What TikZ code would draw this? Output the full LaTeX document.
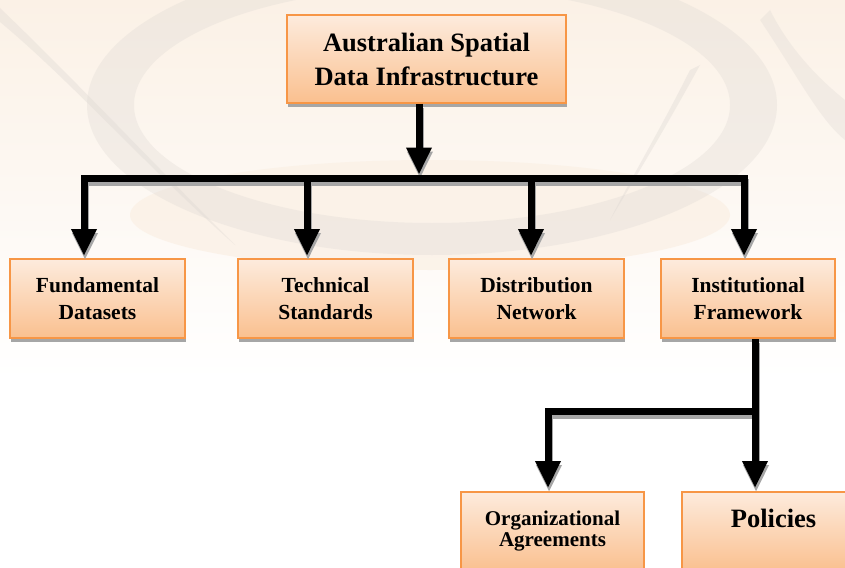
\documentclass[tikz,border=0pt]{standalone}
\usepackage{fontspec}
\setmainfont{Liberation Serif}
\usetikzlibrary{arrows.meta,shadows}

\definecolor{boxedge}{HTML}{F79646}
\definecolor{boxtop}{HTML}{FDEBDD}
\definecolor{boxbottom}{HTML}{FAC08F}
\definecolor{seal}{HTML}{DCD7D2}
\definecolor{sealwarm}{HTML}{FBF1E6}

\tikzset{
  box/.style={draw=boxedge, line width=2pt, top color=boxtop, bottom color=boxbottom,
    inner sep=0pt, align=center,
    general shadow={fill=black!35, shadow xshift=1pt, shadow yshift=-4pt}},
  titletext/.style={font=\bfseries\fontsize{26.5}{34}\selectfont},
  itemtext/.style={font=\bfseries\fontsize{21.5}{27}\selectfont},
  link/.style={line width=7pt, draw=black},
  tip/.style={-{Triangle[width=24pt,length=27pt]}},
}

% every connector of the chart, drawn once for the shadow and once in black
\newcommand\linkpaths{%
  \draw[link, line cap=rect] (d1) -- (d4);
  \draw[link, tip, shorten >=3.5pt] (asdi.south -| j0) -- (j0);
  \draw[link, tip, shorten >=2pt] (d1) -- (d1 |- fund.north);
  \draw[link, tip, shorten >=2pt] (d2) -- (d2 |- tech.north);
  \draw[link, tip, shorten >=2pt] (d3) -- (d3 |- dist.north);
  \draw[link, tip, shorten >=2pt] (d4) -- (d4 |- inst.north);
  \draw[link, line cap=rect] (k2) -- (k1);
  \draw[link, tip, shorten >=3pt] (inst.south -| k1) -- (k1 |- pol.north);
  \draw[link, tip, shorten >=3pt] (k2) -- (k2 |- org.north);
}

\begin{document}
\begin{tikzpicture}[x=1pt, y=-1pt]
  \useasboundingbox (0,0) rectangle (845,567);
  \clip (0,0) rectangle (845,567);
  \fill[white] (0,0) rectangle (845,567);

  % faint seal in the background
  \shade[top color=sealwarm, bottom color=white] (0,0) rectangle (845,380);
  \fill[sealwarm, opacity=.8] (430,215) ellipse [x radius=300, y radius=55];
  \fill[seal, opacity=.3, even odd rule]
    (432,105) ellipse [x radius=345, y radius=150]
    (432,105) ellipse [x radius=298, y radius=118];
  \fill[seal, opacity=.35] (0,22) .. controls (70,80) and (150,170) .. (235,245)
    .. controls (150,160) and (70,75) .. (0,8) -- cycle;
  \fill[seal, opacity=.35] (690,70) .. controls (660,130) and (630,180) .. (610,220)
    .. controls (640,170) and (670,120) .. (700,65) -- cycle;
  \fill[seal, opacity=.3] (760,20) .. controls (800,80) and (820,120) .. (845,140)
    -- (845,100) .. controls (820,80) and (790,50) .. (770,10) -- cycle;

  % boxes
  \node[box, titletext, minimum width=279pt, minimum height=88pt] (asdi) at (426.5,59)
    {Australian Spatial\\Data Infrastructure};
  \node[box, itemtext, minimum width=175pt, minimum height=79pt] (fund) at (97.5,298.5)
    {Fundamental\\Datasets};
  \node[box, itemtext, minimum width=175pt, minimum height=79pt] (tech) at (325.5,298.5)
    {Technical\\Standards};
  \node[box, itemtext, minimum width=175pt, minimum height=79pt] (dist) at (536.5,298.5)
    {Distribution\\Network};
  \node[box, itemtext, minimum width=174pt, minimum height=79pt] (inst) at (748,298.5)
    {Institutional\\Framework};
  \node[box, font=\bfseries\fontsize{21}{22}\selectfont, minimum width=183pt, minimum height=79pt]
    (org) at (552.5,531.5)
    {\raisebox{8pt}{\begin{tabular}{@{}c@{}}Organizational\\[-1pt]Agreements\end{tabular}}};
  \node[box, titletext, minimum width=183pt, minimum height=79pt] (pol) at (773.5,531.5)
    {\raisebox{26pt}{Policies}};

  % junction points on the bars
  \coordinate (j0) at (419,178);
  \coordinate (d1) at (84,178);
  \coordinate (d2) at (307,178);
  \coordinate (d3) at (531,178);
  \coordinate (d4) at (744,178);
  \coordinate (k1) at (755,411);
  \coordinate (k2) at (548,411);

  % connectors: grey shadow first, then the black lines on top
  \begin{scope}[transform canvas={shift={(1pt,-4pt)}}, link/.style={line width=7pt, draw=black!35}]
    \linkpaths
  \end{scope}
  \linkpaths
\end{tikzpicture}
\end{document}
